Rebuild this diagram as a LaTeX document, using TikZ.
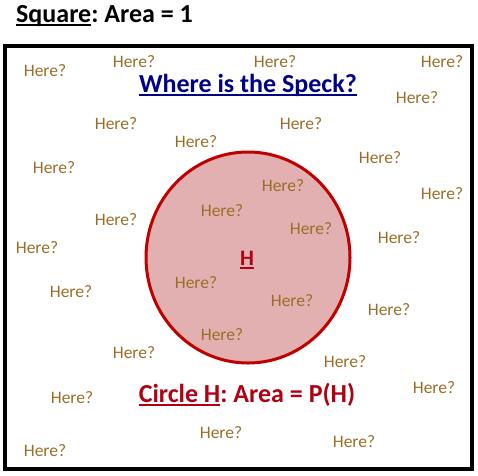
\documentclass[tikz,border=0pt]{standalone}
\usepackage{fontspec}
\setmainfont{Carlito}
\frenchspacing
\definecolor{herec}{RGB}{155,110,40}
\definecolor{navyc}{RGB}{0,0,135}
\definecolor{redc}{RGB}{175,0,20}
\definecolor{circfill}{RGB}{226,176,176}
\definecolor{circline}{RGB}{192,0,0}
\newcommand\myul[1]{\setbox0\hbox{#1}\rlap{\rule[-0.16em]{\wd0}{0.08em}}\box0}
\tikzset{
  here/.style={text=herec, font=\fontsize{17.5}{20}\selectfont, inner sep=0pt, anchor=center},
  bigtxt/.style={font=\fontsize{26}{30}\selectfont\bfseries, inner sep=0pt},
}
\begin{document}
\begin{tikzpicture}[x=1pt,y=-1pt]
\useasboundingbox (0,0) rectangle (478,475);
\fill[white] (0,0) rectangle (478,475);
\node[bigtxt, anchor=base west] (title) at (16,22) {\myul{Square}: Area = 1};
\draw[line width=4pt] (5.3,45.5) rectangle (472,469) coordinate (sq);
\draw[line width=3pt, draw=circline, fill=circfill] (248,257.5) ellipse [x radius=102, y radius=105.5];
\node[bigtxt, text=navyc, anchor=base] (where) at (248,92) {\myul{Where is the Speck?}};
\node[bigtxt, text=redc, anchor=base] (circ) at (247,402) {\myul{Circle H}: Area = P(H)};
\node[font=\fontsize{22}{26}\selectfont\bfseries, text=redc, anchor=base, inner sep=0pt] (h) at (247,265) {\myul{H}};
\foreach \x/\y [count=\i] in {45/71, 134/62, 275/62, 442/62, 417/98, 116/124, 301/124, 196/142,
  54/168, 380/158, 283/186, 442/194, 222/211, 116/220, 311/229, 399/238, 37/248, 71/292,
  196/283, 292/301, 389/310, 222/335, 134/353, 345/362, 434/388, 72/398, 221/433, 354/442, 45/451}
  \node[here] (h\i) at (\x,\y) {Here?};
\end{tikzpicture}
\end{document}
